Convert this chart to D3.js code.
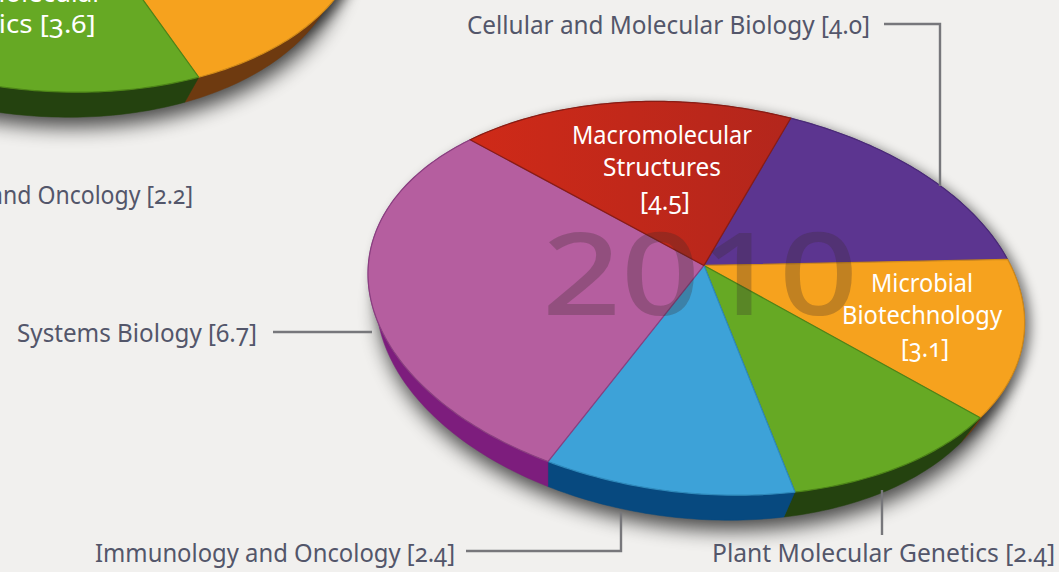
<!DOCTYPE html>
<html><head><meta charset="utf-8">
<script src="https://cdn.jsdelivr.net/npm/d3@7"></script>
<style>
html,body{margin:0;padding:0;background:#f1f0ee;overflow:hidden}
text{font-family:"Noto Sans","Open Sans",sans-serif;font-variant-numeric:oldstyle-nums}
text.year{font-variant-numeric:lining-nums;font-weight:500}
</style></head><body>
<svg id="c" width="1059" height="572"></svg>
<script>
// data
const categories = ["Cellular and Molecular Biology","Microbial Biotechnology","Plant Molecular Genetics","Immunology and Oncology","Systems Biology","Macromolecular Structures"];
const values2010 = [4.0,3.1,2.4,2.4,6.7,4.5];
const values2009 = [4.6,4.0,3.6,2.2,5.0,3.1];
const wallColors = ["#3d2468","#6e3a10","#24420f","#07497f","#7d1d7d","#7c1a12"];
const topColors = ["#5c3590","#f6a21e","#66a924","#3da2d8","#b55e9f","url(#redGrad)"];
const edgeColors = ["#4a2a78","#d08a1a","#4d8418","#2f8abc","#8a3f80","#8a1c14"];
const yearLabel = "2010";
// calibration of the tilted disc: where known fractions of the turn land on the page
const calib = [[0,790,118],[62.3,1008,260],[110.6,980,417],[148,795,492],[185.4,548,462],[289.8,470,140]];
const apexPage = [705,265];
const W=1059,H=572,DEPTH=25;

function solve(A,b){const n=b.length,M=A.map((r,i)=>[...r,b[i]]);
 for(let i=0;i<n;i++){let p=i;for(let k=i+1;k<n;k++)if(Math.abs(M[k][i])>Math.abs(M[p][i]))p=k;[M[i],M[p]]=[M[p],M[i]];
  for(let k=i+1;k<n;k++){const f=M[k][i]/M[i][i];for(let j=i;j<=n;j++)M[k][j]-=f*M[i][j];}}
 const x=Array(n).fill(0);for(let i=n-1;i>=0;i--){let s=M[i][n];for(let j=i+1;j<n;j++)s-=M[i][j]*x[j];x[i]=s/M[i][i];}return x;}
function fit(){
 const pts=calib.map(c=>{const a=c[0]*Math.PI/180;return [Math.sin(a),-Math.cos(a),c[1],c[2]];});
 pts.push([0,0,apexPage[0],apexPage[1]]);
 const rows=[],rhs=[];
 pts.forEach(([u,v,x,y])=>{rows.push([u,v,1,0,0,0,-u*x,-v*x]);rhs.push(x);rows.push([0,0,0,u,v,1,-u*y,-v*y]);rhs.push(y);});
 const n=8,ATA=d3.range(n).map(i=>d3.range(n).map(j=>d3.sum(rows,r=>r[i]*r[j]))),ATb=d3.range(n).map(i=>d3.sum(rows,(r,k)=>r[i]*rhs[k]));
 return solve(ATA,ATb);}
const h=fit();
function project(a,r=1,dx=0,dy=0){const u=r*Math.sin(a),v=-r*Math.cos(a),w=h[6]*u+h[7]*v+1;
 return [(h[0]*u+h[1]*v+h[2])/w+dx,(h[3]*u+h[4]*v+h[5])/w+dy];}
const lower=(p,dx)=>[p[0]-(p[0]-dx-548)*0.045,p[1]+DEPTH];

const svg=d3.select("#c");
const defs=svg.append("defs");
const rg=defs.append("linearGradient").attr("id","redGrad").attr("gradientUnits","userSpaceOnUse").attr("x1",470).attr("x2",790).attr("y1",0).attr("y2",0);
rg.append("stop").attr("offset",0).attr("stop-color","#cf2a18");rg.append("stop").attr("offset",1).attr("stop-color","#b3261c");
const soft=(id,sd)=>defs.append("filter").attr("id",id).attr("x","-20%").attr("y","-20%").attr("width","140%").attr("height","140%")
 .append("feGaussianBlur").attr("stdDeviation",sd);
soft("soft",10);soft("tight",6);
svg.append("rect").attr("width",W).attr("height",H).attr("fill","#f1f0ee");

const line=d3.line();
const pie=d3.pie().sort(null).value(d=>d).startAngle(0).endAngle(2*Math.PI);
function samples(a0,a1){const n=Math.max(4,Math.ceil((a1-a0)*60));return d3.range(n+1).map(i=>a0+(a1-a0)*i/n);}

function drawPie(values,dx,dy){
 const g=svg.append("g");
 const arcs=pie(values);
 const ring=samples(0,2*Math.PI);
 // cast shadow
 g.append("path").attr("d",line(ring.map(a=>{const p=lower(project(a,1,dx,dy),dx);return [p[0]+3,p[1]+10];}))+"Z")
  .attr("fill","#000").attr("opacity",.7).attr("filter","url(#soft)");
 g.append("path").attr("d",line(ring.map(a=>project(a,1,dx+6,dy+3)))+"Z")
  .attr("fill","#000").attr("opacity",.5).attr("filter","url(#tight)");
 // walls
 arcs.forEach((d,i)=>{const s=samples(d.startAngle,d.endAngle).map(a=>project(a,1,dx,dy));
  g.append("path").attr("d",line(s.concat(s.map(p=>lower(p,dx)).reverse()))+"Z").attr("fill",wallColors[i]).attr("stroke",wallColors[i]).attr("stroke-width",.5);});
 // top face
 arcs.forEach((d,i)=>{const s=samples(d.startAngle,d.endAngle).map(a=>project(a,1,dx,dy));
  s.push(project(0,0,dx,dy));
  g.append("path").attr("d",line(s)+"Z").attr("fill",topColors[i]).attr("stroke",edgeColors[i]).attr("stroke-width",1.2).attr("stroke-linejoin","round");});
}
drawPie(values2009,-660,-403);
drawPie(values2010,0,0);

// year
svg.append("text").attr("class","year").attr("x",700).attr("y",315).attr("text-anchor","middle").attr("font-size",114)
 .attr("fill","#3a2a2a").attr("fill-opacity",.28).attr("textLength",316).attr("lengthAdjust","spacingAndGlyphs").text(yearLabel);

// leader lines
const leaders=[[[884,24],[940,24],[940,186]],[[273,332],[372,332]],[[466,551],[621,551],[621,512]],[[882,490],[882,535]]];
svg.selectAll("path.leader").data(leaders).join("path").attr("class","leader").attr("d",line).attr("fill","none").attr("stroke","#77777b").attr("stroke-width",2.4);

const fmt=d3.format(".1f");
const label=(i,v)=>`${categories[i]} [${fmt(v)}]`;
const outer=[
 {t:label(0,values2010[0]),x:870,y:34,a:"end",w:403},
 {t:label(4,values2010[4]),x:257,y:342,a:"end",w:240},
 {t:label(3,values2010[3]),x:455,y:562,a:"end",w:360},
 {t:label(2,values2010[2]),x:1055,y:562,a:"end",w:343},
 {t:label(3,values2009[3]),x:193,y:204,a:"end",w:348}];
svg.selectAll("text.o").data(outer).join("text").attr("class","o").attr("x",d=>d.x).attr("y",d=>d.y).attr("text-anchor",d=>d.a)
 .attr("font-size",25).attr("fill","#53566a").attr("textLength",d=>d.w).attr("lengthAdjust","spacingAndGlyphs").text(d=>d.t);

const inner=[
 {x:662,y:144,t:"Macromolecular",w:180},{x:662,y:176,t:"Structures",w:118},{x:665,y:210,t:`[${fmt(values2010[5])}]`,w:50},
 {x:922,y:292,t:"Microbial",w:102},{x:922,y:324,t:"Biotechnology",w:160},{x:925,y:357,t:`[${fmt(values2010[1])}]`,w:48},
 {x:8,y:2,t:"Plant Molecular",w:190},{x:8,y:33,t:`Genetics [${fmt(values2009[2])}]`,w:175}];
svg.selectAll("text.i").data(inner).join("text").attr("class","i").attr("x",d=>d.x).attr("y",d=>d.y).attr("text-anchor","middle")
 .attr("font-size",25).attr("fill","#fff").attr("textLength",d=>d.w).attr("lengthAdjust","spacingAndGlyphs").text(d=>d.t);
</script></body></html>
